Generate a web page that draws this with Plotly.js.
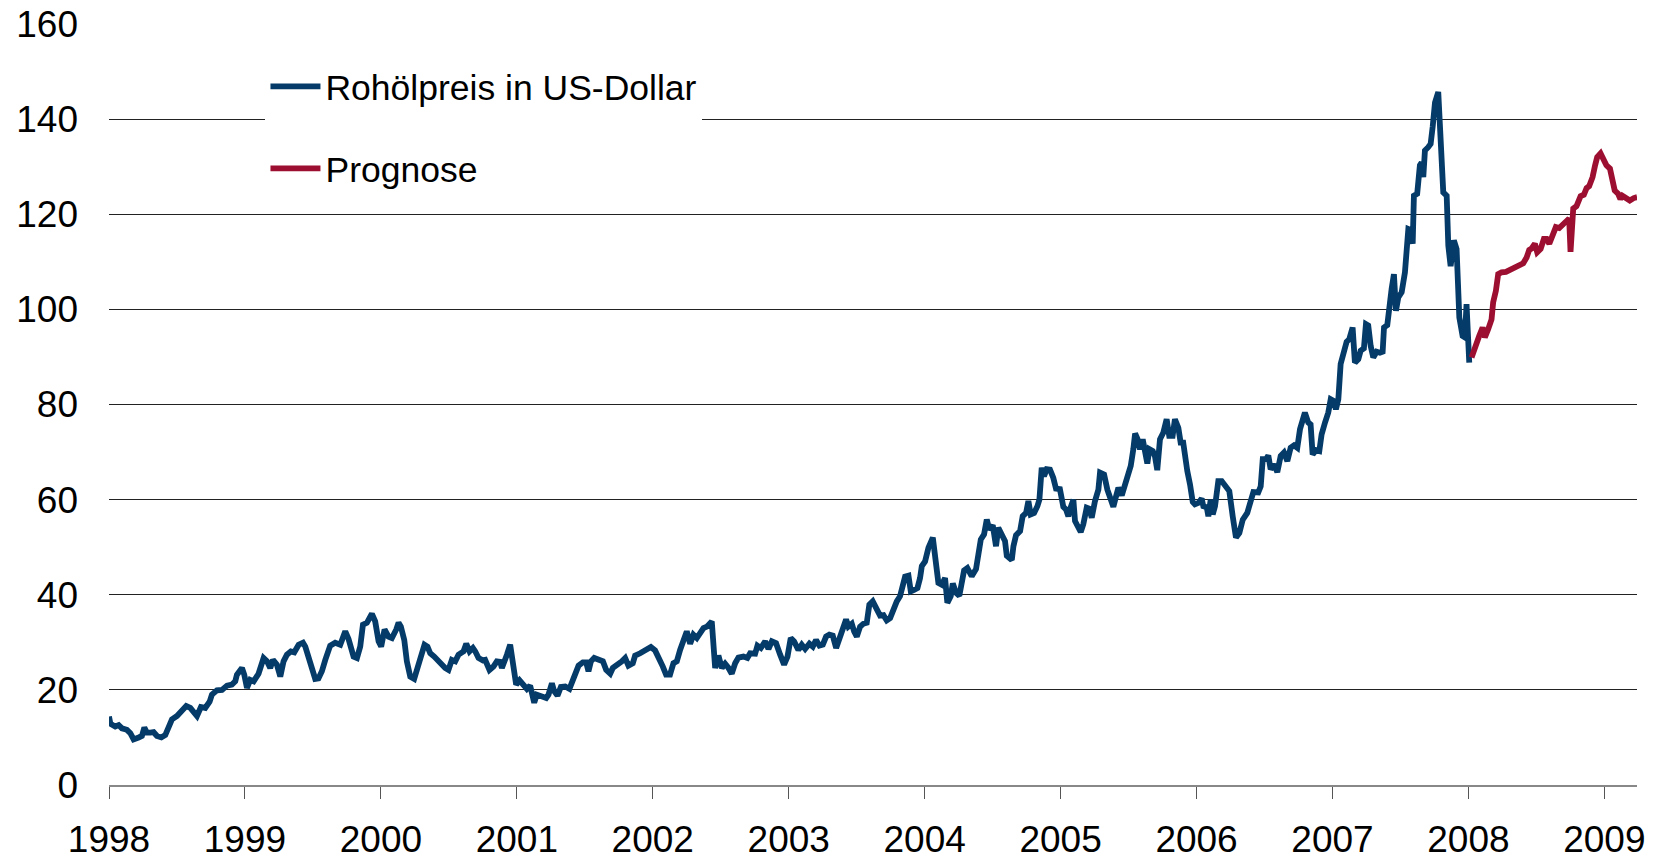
<!DOCTYPE html>
<html>
<head>
<meta charset="utf-8">
<script src="https://cdn.plot.ly/plotly-3.0.1.min.js"></script>
<style>
  html, body { margin: 0; padding: 0; background: #ffffff; }
  #chart { width: 1654px; height: 859px; }
</style>
</head>
<body>
<div id="chart"></div>
<script>
// Crude oil price in US dollars (decimal years)
const oilDates = [
  1998.000,1998.010,1998.046,1998.071,1998.095,1998.132,1998.157,1998.181,1998.218,1998.242,
  1998.260,1998.279,1998.304,1998.328,1998.353,1998.385,1998.414,1998.439,1998.463,1998.500,
  1998.537,1998.568,1998.598,1998.647,1998.676,1998.708,1998.740,1998.757,1998.794,1998.831,
  1998.868,1998.904,1998.929,1998.941,1998.978,1998.995,1999.015,1999.039,1999.064,1999.100,
  1999.137,1999.162,1999.186,1999.206,1999.235,1999.260,1999.284,1999.309,1999.338,1999.363,
  1999.395,1999.427,1999.444,1999.468,1999.493,1999.517,1999.541,1999.566,1999.591,1999.627,
  1999.664,1999.701,1999.738,1999.762,1999.799,1999.824,1999.848,1999.868,1999.897,1999.934,
  1999.958,1999.983,2000.002,2000.027,2000.056,2000.081,2000.113,2000.130,2000.147,2000.172,
  2000.191,2000.216,2000.245,2000.265,2000.294,2000.309,2000.321,2000.343,2000.363,2000.392,
  2000.424,2000.449,2000.473,2000.497,2000.522,2000.547,2000.571,2000.608,2000.628,2000.652,
  2000.677,2000.694,2000.718,2000.750,2000.767,2000.799,2000.828,2000.853,2000.878,2000.890,
  2000.907,2000.927,2000.951,2000.971,2000.995,2001.020,2001.049,2001.074,2001.098,2001.111,
  2001.128,2001.147,2001.184,2001.216,2001.233,2001.258,2001.275,2001.299,2001.324,2001.356,
  2001.387,2001.417,2001.454,2001.486,2001.510,2001.527,2001.545,2001.569,2001.601,2001.633,
  2001.657,2001.687,2001.706,2001.736,2001.773,2001.797,2001.821,2001.853,2001.870,2001.907,
  2001.944,2001.986,2002.017,2002.054,2002.074,2002.098,2002.127,2002.152,2002.177,2002.201,
  2002.226,2002.250,2002.275,2002.299,2002.324,2002.348,2002.373,2002.398,2002.417,2002.434,
  2002.459,2002.483,2002.508,2002.532,2002.557,2002.581,2002.606,2002.630,2002.667,2002.696,
  2002.716,2002.753,2002.770,2002.795,2002.827,2002.851,2002.876,2002.907,2002.937,2002.966,
  2002.991,2003.015,2003.040,2003.071,2003.096,2003.121,2003.152,2003.177,2003.201,2003.226,
  2003.251,2003.275,2003.299,2003.324,2003.349,2003.373,2003.402,2003.422,2003.439,2003.464,
  2003.481,2003.501,2003.525,2003.549,2003.574,2003.593,2003.618,2003.648,2003.672,2003.697,
  2003.721,2003.746,2003.770,2003.795,2003.819,2003.832,2003.856,2003.881,2003.898,2003.922,
  2003.947,2003.966,2003.979,2004.003,2004.028,2004.060,2004.077,2004.101,2004.126,2004.150,
  2004.167,2004.192,2004.207,2004.231,2004.255,2004.273,2004.290,2004.314,2004.346,2004.378,
  2004.395,2004.413,2004.437,2004.457,2004.476,2004.501,2004.525,2004.542,2004.575,2004.591,
  2004.604,2004.641,2004.653,2004.672,2004.702,2004.721,2004.746,2004.763,2004.780,2004.805,
  2004.829,2004.844,2004.861,2004.878,2004.898,2004.922,2004.946,2004.966,2004.995,2005.020,
  2005.040,2005.057,2005.074,2005.094,2005.106,2005.131,2005.148,2005.167,2005.192,2005.211,
  2005.229,2005.253,2005.278,2005.290,2005.320,2005.344,2005.364,2005.388,2005.408,2005.425,
  2005.450,2005.474,2005.491,2005.516,2005.535,2005.548,2005.565,2005.584,2005.604,2005.621,
  2005.638,2005.653,2005.678,2005.694,2005.711,2005.731,2005.756,2005.780,2005.799,2005.824,
  2005.841,2005.866,2005.883,2005.902,2005.915,2005.932,2005.952,2005.972,2005.988,2006.013,
  2006.038,2006.050,2006.075,2006.087,2006.104,2006.119,2006.136,2006.160,2006.185,2006.217,
  2006.241,2006.266,2006.290,2006.315,2006.340,2006.373,2006.398,2006.418,2006.454,2006.472,
  2006.487,2006.511,2006.528,2006.545,2006.570,2006.594,2006.619,2006.643,2006.668,2006.692,
  2006.717,2006.741,2006.761,2006.780,2006.797,2006.822,2006.839,2006.854,2006.878,2006.903,
  2006.920,2006.945,2006.969,2006.987,2007.006,2007.025,2007.043,2007.060,2007.079,2007.104,
  2007.123,2007.148,2007.165,2007.190,2007.207,2007.231,2007.246,2007.263,2007.281,2007.300,
  2007.325,2007.349,2007.369,2007.379,2007.403,2007.418,2007.435,2007.452,2007.467,2007.484,
  2007.509,2007.533,2007.558,2007.575,2007.590,2007.599,2007.623,2007.643,2007.656,2007.668,
  2007.680,2007.704,2007.722,2007.737,2007.754,2007.778,2007.790,2007.803,2007.815,2007.840,
  2007.852,2007.869,2007.893,2007.913,2007.933,2007.957,2007.974,2007.986,2008.006
];
const oilPrices = [
  14.4,12.9,12.3,12.6,11.9,11.6,10.9,9.6,10.0,10.3,
  12.1,11.0,11.0,11.1,10.3,10.0,10.5,12.3,13.8,14.5,
  15.8,16.6,16.2,14.5,16.4,16.2,17.5,19.0,19.9,20.0,
  20.9,21.1,21.8,23.2,24.6,23.2,20.4,22.1,21.8,23.4,
  26.7,26.0,24.6,26.3,25.3,22.8,26.0,27.4,28.1,27.9,
  29.5,29.9,29.1,26.7,25.3,22.3,22.4,23.9,26.3,29.3,
  29.9,29.5,32.3,30.7,27.0,26.7,29.1,33.7,34.1,36.0,
  34.4,30.2,29.1,32.7,31.2,30.9,32.7,34.1,33.3,30.5,
  26.0,22.8,22.3,24.2,26.3,27.4,29.5,29.1,27.7,27.0,
  26.0,25.6,24.6,24.2,26.3,26.0,27.4,28.1,29.7,28.1,
  28.8,28.1,26.7,26.2,26.3,24.2,24.9,26.0,25.9,24.6,
  26.3,27.4,29.5,24.6,21.1,22.0,21.1,20.2,20.9,19.3,
  17.3,19.0,18.6,18.3,19.0,21.4,19.7,18.8,20.6,20.7,
  20.2,22.1,25.1,25.8,25.8,23.9,26.0,26.7,26.2,26.0,
  24.2,23.4,24.6,25.1,26.0,26.7,25.1,25.6,27.2,27.7,
  28.4,29.0,28.3,26.3,24.9,23.2,23.2,25.6,26.0,28.4,
  30.9,32.3,29.7,31.6,30.9,31.9,33.0,33.3,34.1,34.4,
  24.6,27.2,24.6,25.5,24.6,23.4,25.6,26.8,27.0,26.7,
  27.7,27.6,29.3,28.8,30.2,28.6,30.2,29.8,27.4,25.3,
  27.0,30.9,30.2,28.4,29.5,28.6,29.7,29.1,30.5,29.3,
  29.5,31.2,31.6,31.4,28.8,30.9,33.2,34.8,33.3,33.9,
  32.3,31.2,33.3,33.9,34.1,37.9,38.6,37.2,35.6,35.7,
  34.6,35.1,37.0,38.6,39.7,41.4,43.8,44.0,40.7,41.0,
  41.4,43.5,46.0,47.0,49.9,52.0,48.8,42.5,42.1,43.5,
  38.3,39.7,42.4,40.4,39.8,43.2,45.1,45.6,43.9,45.4,
  48.1,51.6,52.7,55.8,53.7,54.6,50.2,54.1,52.2,51.3,
  48.2,47.3,50.2,52.5,53.4,56.5,57.2,59.7,56.9,57.2,
  58.6,60.0,66.7,64.9,66.4,66.3,64.6,62.3,62.2,58.5,
  57.9,56.5,58.4,60.0,55.5,53.7,53.2,54.8,58.3,58.1,
  56.2,59.7,62.1,65.7,65.3,62.1,60.0,58.5,60.7,62.5,
  60.9,63.2,65.3,67.1,70.6,73.9,72.8,70.6,72.7,70.2,
  67.6,70.6,70.2,69.1,66.2,72.7,74.1,76.9,73.4,73.4,
  76.9,75.1,72.0,72.0,68.8,66.0,63.2,59.5,59.0,59.3,
  60.2,58.6,58.4,56.5,60.0,56.9,58.6,63.9,63.9,62.5,
  61.8,56.5,52.0,53.0,55.8,57.2,60.0,61.6,61.5,62.8,
  68.5,68.5,69.3,66.4,67.4,65.8,69.2,69.9,68.1,70.9,
  71.4,70.9,74.8,77.2,78.3,76.2,75.8,69.5,70.4,70.2,
  73.7,76.2,78.3,81.1,80.8,79.0,81.1,88.5,90.9,93.2,
  93.7,96.2,88.8,89.5,91.3,91.8,96.9,96.6,92.3,89.9,
  91.1,90.9,91.1,96.2,96.7,101.5,104.3,107.4,99.7,102.5,
  103.6,107.8,116.9,116.7,113.8,123.9,124.3,130.3,130.9,127.8,
  133.4,134.1,134.8,138.4,143.5,145.7,140.1,130.9,124.6,123.9,
  113.4,109.1,114.5,112.7,98.3,94.4,94.1,101.1,88.8
];

// Forecast ("Prognose")
const forecastDates = [
  2008.023,2008.047,2008.079,2008.104,2008.121,2008.145,2008.170,2008.182,2008.202,2008.219,
  2008.244,2008.276,2008.305,2008.342,2008.374,2008.403,2008.428,2008.447,2008.465,2008.489,
  2008.506,2008.531,2008.555,2008.575,2008.595,2008.619,2008.643,2008.668,2008.692,2008.717,
  2008.741,2008.751,2008.771,2008.795,2008.825,2008.849,2008.869,2008.888,2008.913,2008.932,
  2008.947,2008.972,2008.991,2009.015,2009.041,2009.059,2009.076,2009.101,2009.118,2009.133,
  2009.162,2009.187,2009.216,2009.241
];
const forecastPrices = [
  89.9,92.3,94.4,96.2,94.1,95.8,97.9,101.5,103.9,107.4,
  107.8,107.9,108.3,108.6,109.0,109.7,110.9,112.5,112.8,113.8,
  112.0,112.7,114.8,114.8,113.8,115.9,117.3,117.1,117.8,118.5,
  119.1,112.1,121.2,121.7,123.8,124.1,125.5,125.9,127.8,130.3,
  132.0,132.8,131.4,130.3,129.6,127.1,125.0,124.3,123.2,123.9,
  123.4,122.9,123.4,123.6
];

const seriesNames = ["Rohölpreis in US-Dollar", "Prognose"];
const yearTicks = [1998,1999,2000,2001,2002,2003,2004,2005,2006,2007,2008,2009];
const yearLabels = ["1998","1999","2000","2001","2002","2003","2004","2005","2006","2007","2008","2009"];
const yTicks = [0,20,40,60,80,100,120,140,160];

const FONT = "Liberation Sans, Arial, Helvetica, sans-serif";

const traces = [
  {
    x: oilDates, y: oilPrices, type: "scatter", mode: "lines",
    name: seriesNames[0], legendgroup: "a",
    line: {color: "#053B69", width: 5.8, shape: "linear"},
    hoverinfo: "x+y"
  },
  {
    x: forecastDates, y: forecastPrices, type: "scatter", mode: "lines",
    name: seriesNames[1], legendgroup: "b",
    line: {color: "#9D0F30", width: 5.8, shape: "linear"},
    hoverinfo: "x+y"
  }
];

const layout = {
  width: 1654, height: 859,
  margin: {l: 109, r: 17, t: 24, b: 74, pad: 0},
  paper_bgcolor: "#ffffff", plot_bgcolor: "#ffffff",
  font: {family: FONT, size: 37, color: "#000000"},
  showlegend: true,
  legend: {
    x: 0.1024, y: 0.957, xanchor: "left", yanchor: "top",
    bgcolor: "#ffffff", borderwidth: 0,
    font: {family: FONT, size: 35.5, color: "#000000"},
    itemwidth: 50, traceorder: "grouped", tracegroupgap: 33
  },
  xaxis: {
    range: [1998, 2009.24], tickmode: "array",
    tickvals: yearTicks, ticktext: yearLabels,
    ticks: "outside", ticklen: 12, tickwidth: 1, tickcolor: "#555555",
    showline: true, linecolor: "#888888", linewidth: 2,
    showgrid: false, zeroline: false,
    tickfont: {family: FONT, size: 37, color: "#000000"},
    ticklabelstandoff: 9
  },
  yaxis: {
    range: [0, 160], tickmode: "array", tickvals: yTicks,
    ticks: "", showline: false, zeroline: false,
    showgrid: true, gridcolor: "#222222", gridwidth: 1.2,
    tickfont: {family: FONT, size: 37, color: "#000000"},
    ticklabelstandoff: 30
  }
};

Plotly.newPlot("chart", traces, layout, {displayModeBar: false, staticPlot: true});
</script>
</body>
</html>
